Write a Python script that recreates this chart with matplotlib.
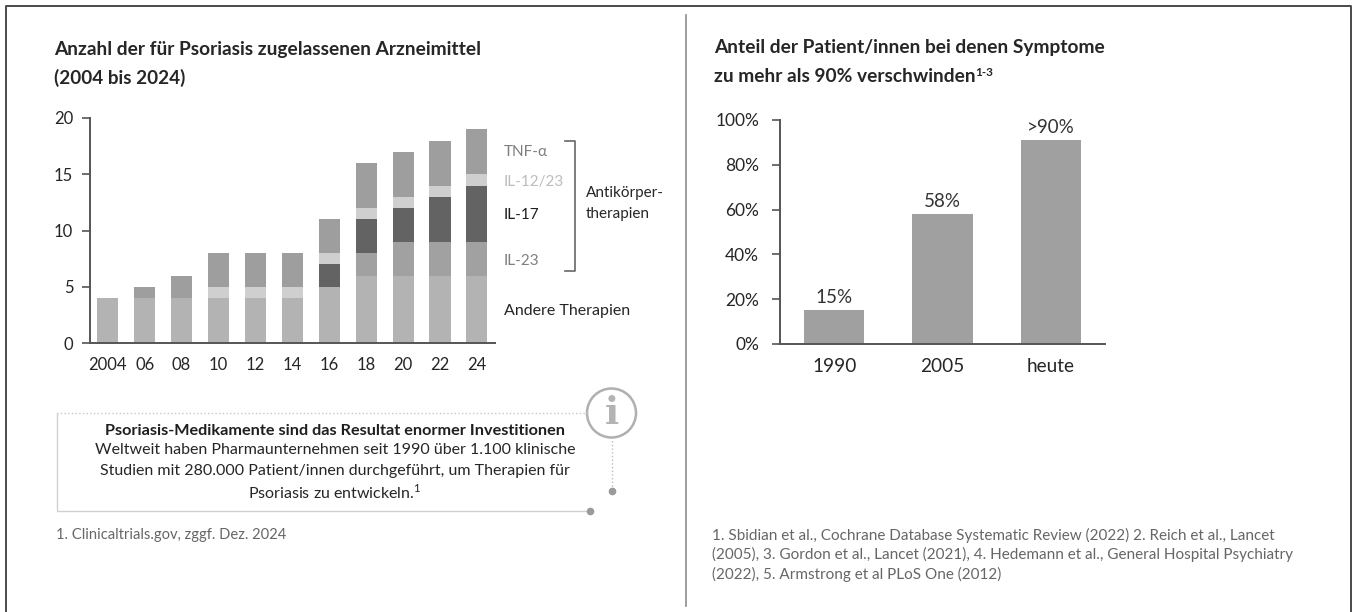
import numpy as np
import matplotlib
matplotlib.use('Agg')
import matplotlib.pyplot as plt
from matplotlib.patches import Circle

plt.rcParams['font.family'] = ['Lato', 'DejaVu Sans']
plt.rcParams['mathtext.fontset'] = 'custom'
plt.rcParams['mathtext.rm'] = 'Lato'
plt.rcParams['mathtext.bf'] = 'Lato:bold'

W, H = 1354, 612

# left chart
years = ['2004', '06', '08', '10', '12', '14', '16', '18', '20', '22', '24']
andere = [4, 4, 4, 4, 4, 4, 5, 6, 6, 6, 6]
il23 = [0, 0, 0, 0, 0, 0, 0, 2, 3, 3, 3]
il17 = [0, 0, 0, 0, 0, 0, 2, 3, 3, 4, 5]
il1223 = [0, 0, 0, 1, 1, 1, 1, 1, 1, 1, 1]
tnf = [0, 1, 2, 3, 3, 3, 3, 4, 4, 4, 4]
left_series = [andere, il23, il17, il1223, tnf]
left_colors = ['#b3b3b3', '#a1a1a1', '#636363', '#cfcfcf', '#9e9e9e']

# right chart
periods = ['1990', '2005', 'heute']
shares = [15, 58, 91]
share_labels = ['15%', '58%', '>90%']


def px_axes(fig, x0, y0, x1, y1):
    # x0,y0 top left, x1,y1 bottom right in pixels
    return fig.add_axes([x0 / W, 1 - y1 / H, (x1 - x0) / W, (y1 - y0) / H])


def ftext(x, y, s, **kw):
    return fig.text(x / W, 1 - y / H, s, **kw)


def fline(xs, ys, **kw):
    fig.add_artist(plt.Line2D([x / W for x in xs], [1 - y / H for y in ys], **kw))


fig = plt.figure(figsize=(W / 100, H / 100), dpi=100)

# outer frame + divider
fline([6, 6, 1351, 1351], [H, 6, 6, H], color='#4a4a4a', lw=1.4)
fline([685.5, 685.5], [15, 606], color='#8c8c8c', lw=1.2)

# titles
ftext(54, 49, 'Anzahl der für Psoriasis zugelassenen Arzneimittel', fontsize=13.8,
      fontweight='bold', color='#262626', va='center')
ftext(54, 78, '(2004 bis 2024)', fontsize=13.6, fontweight='bold', color='#262626', va='center')
ftext(714, 48, 'Anteil der Patient/innen bei denen Symptome', fontsize=13.8,
      fontweight='bold', color='#262626', va='center')
ftext(714, 77, 'zu mehr als 90% verschwinden', fontsize=13.8, fontweight='bold',
      color='#262626', va='center')
ftext(975, 73, '1-3', fontsize=8.5, fontweight='bold', color='#262626', va='center')

# stacked bars
ax = px_axes(fig, 90, 118, 495, 343)
x = np.arange(len(years))
bottom = np.zeros(len(years))
for vals, col in zip(left_series, left_colors):
    ax.bar(x, vals, width=0.57, bottom=bottom, color=col, linewidth=0)
    bottom += np.array(vals)
ax.set_xlim(-0.48, 10.49)
ax.set_ylim(0, 20)
ax.set_yticks([0, 5, 10, 15, 20])
ax.set_xticks(x, years)
ax.tick_params(axis='y', length=6, width=1.2, color='#555555', labelsize=12,
               labelcolor='#262626', pad=6)
ax.tick_params(axis='x', length=0, labelsize=12, labelcolor='#262626', pad=10)
for s in ['top', 'right']:
    ax.spines[s].set_visible(False)
for s in ['left', 'bottom']:
    ax.spines[s].set_linewidth(1.4)
    ax.spines[s].set_color('#555555')

# series labels
ftext(504, 152, 'TNF-α', fontsize=11, color='#7f7f7f', va='center')
ftext(504, 182, 'IL-12/23', fontsize=11, color='#bdbdbd', va='center')
ftext(504, 215, 'IL-17', fontsize=11, color='#1f1f1f', va='center')
ftext(504, 261, 'IL-23', fontsize=11, color='#7f7f7f', va='center')
ftext(504, 311, 'Andere Therapien', fontsize=11.5, color='#262626', va='center')
ftext(586, 193, 'Antikörper-', fontsize=11, color='#262626', va='center')
ftext(586, 214, 'therapien', fontsize=11, color='#262626', va='center')
fline([565, 575, 575, 565], [141, 141, 271, 271], color='#666666', lw=1.2)

# info box
dot = '#9a9a9a'
fline([588, 57], [413, 413], color='#c8c8c8', lw=1.0, ls=':')
fline([57, 57, 590], [413, 511, 511], color='#d0d0d0', lw=1.0)
fline([612, 612], [437, 490], color='#bdbdbd', lw=1.0, ls=':')
fline([590], [511], color=dot, marker='o', ms=4.5, lw=0)
fline([612], [491], color=dot, marker='o', ms=4.5, lw=0)
fig.add_artist(Circle((611.5, H - 413), 24.5, transform=None, fill=True, fc='white',
                      ec='#b0b0b0', lw=1.8))
ftext(611.5, 414, 'i', fontsize=27, family='DejaVu Serif', fontweight='bold', color='#b4b4b4',
      ha='center', va='center')

ftext(335, 431, 'Psoriasis-Medikamente sind das Resultat enormer Investitionen', fontsize=11.7,
      fontweight='bold', color='#1f1f1f', ha='center', va='center')
ftext(335, 450, 'Weltweit haben Pharmaunternehmen seit 1990 über 1.100 klinische', fontsize=11.55,
      color='#262626', ha='center', va='center')
ftext(335, 471, 'Studien mit 280.000 Patient/innen durchgeführt, um Therapien für', fontsize=11.55,
      color='#262626', ha='center', va='center')
ftext(335, 492, 'Psoriasis zu entwickeln.$^{1}$', fontsize=11.55, color='#262626',
      ha='center', va='center')
ftext(56, 535, '1. Clinicaltrials.gov, zggf. Dez. 2024', fontsize=10.6, color='#666666', va='center')

# right bars
ax2 = px_axes(fig, 780, 120, 1105, 344)
x2 = np.arange(len(periods))
ax2.bar(x2, shares, width=0.555, color='#a0a0a0', linewidth=0)
for i, lab in enumerate(share_labels):
    ax2.text(i, shares[i] + 2, lab, ha='center', va='bottom', fontsize=13.5, color='#333333')
ax2.set_xlim(-0.5, 2.5)
ax2.set_ylim(0, 100)
ax2.set_yticks([0, 20, 40, 60, 80, 100], ['0%', '20%', '40%', '60%', '80%', '100%'])
ax2.set_xticks(x2, periods)
ax2.tick_params(axis='y', length=6, width=1.2, color='#555555', labelsize=12.5,
                labelcolor='#262626', pad=9)
ax2.tick_params(axis='x', length=0, labelsize=13.7, labelcolor='#262626', pad=10)
for s in ['top', 'right']:
    ax2.spines[s].set_visible(False)
for s in ['left', 'bottom']:
    ax2.spines[s].set_linewidth(1.4)
    ax2.spines[s].set_color('#555555')

# footnotes
notes = ['1. Sbidian et al., Cochrane Database Systematic Review (2022) 2. Reich et al., Lancet',
         '(2005), 3. Gordon et al., Lancet (2021), 4. Hedemann et al., General Hospital Psychiatry',
         '(2022), 5. Armstrong et al PLoS One (2012)']
for i, n in enumerate(notes):
    ftext(712, 535 + i * 19.5, n, fontsize=11, color='#666666', va='center')

fig.savefig('out.png', dpi=100)
